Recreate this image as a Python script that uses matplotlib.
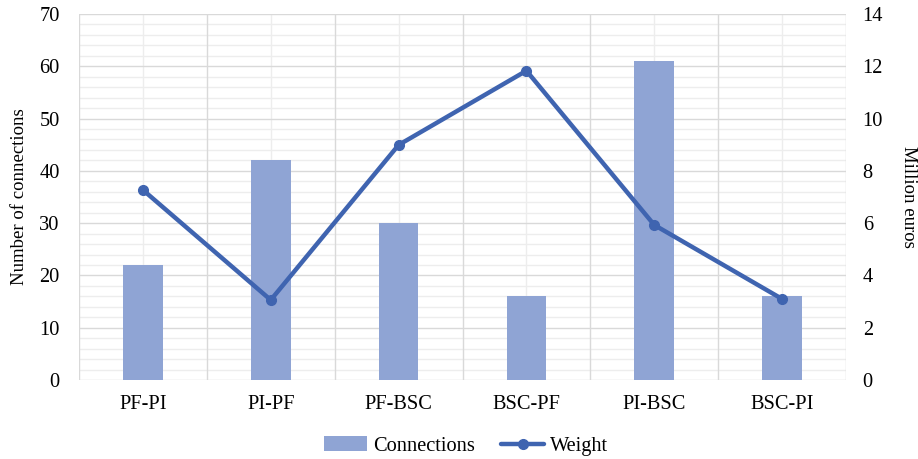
import matplotlib
matplotlib.use("Agg")
import matplotlib.pyplot as plt
import numpy as np
from matplotlib.ticker import MultipleLocator

categories = ["PF-PI", "PI-PF", "PF-BSC", "BSC-PF", "PI-BSC", "BSC-PI"]
connections = [22, 42, 30, 16, 61, 16]
weight = [7.27, 3.06, 8.99, 11.83, 5.93, 3.10]

plt.rcParams['font.family'] = ['Liberation Serif', 'DejaVu Serif']

fig = plt.figure(figsize=(9.18, 4.59), dpi=100)
ax = fig.add_axes([79/918, 79/459, (846-79)/918, (380-14)/459])
ax2 = ax.twinx()

x = np.arange(len(categories))
bar_color = "#8FA4D4"
line_color = "#3F64B0"

ax.bar(x, connections, width=0.31, color=bar_color, zorder=3, label="Connections")
ax2.plot(x, weight, color=line_color, lw=3.2, marker="o", ms=7, zorder=4, label="Weight",
         solid_capstyle="round")

ax.set_xlim(-0.5, len(categories) - 0.5)
ax.set_ylim(0, 70)
ax2.set_ylim(0, 14)
ax.yaxis.set_major_locator(MultipleLocator(10))
ax.yaxis.set_minor_locator(MultipleLocator(2))
ax2.yaxis.set_major_locator(MultipleLocator(2))

ax.set_xticks(x)
ax.set_xticklabels(categories)
ax.set_xticks(np.arange(-0.5, len(categories), 1.0), minor=True)

# gridlines
for v in np.arange(0, 71, 2):
    if v % 10 == 0:
        ax.axhline(v, color="#D9D9D9", lw=1.0, zorder=1)
    else:
        ax.axhline(v, color="#EDEDED", lw=1.0, zorder=0.5)
for xv in np.arange(-0.5, len(categories), 1.0):
    ax.axvline(xv, color="#D9D9D9", lw=1.0, zorder=1)
for xv in x:
    ax.axvline(xv, color="#EDEDED", lw=1.0, zorder=0.5)

for a in (ax, ax2):
    for s in a.spines.values():
        s.set_visible(False)
    a.tick_params(which="both", length=0)
ax.tick_params(axis="y", labelsize=14.7, pad=14)
ax.tick_params(axis="x", labelsize=14.7, pad=11)
ax2.tick_params(axis="y", labelsize=14.7, pad=12)

ax.set_ylabel("Number of connections", fontsize=13.5, labelpad=8)
ax2.set_ylabel("Million euros", fontsize=13.5, rotation=-90, labelpad=24)

h1, l1 = ax.get_legend_handles_labels()
h2, l2 = ax2.get_legend_handles_labels()
fig.legend(h1 + h2, l1 + l2, loc="center", bbox_to_anchor=(466/918, (459-446)/459),
           ncol=2, frameon=False, fontsize=14.7, handlelength=2.1, columnspacing=1.3,
           handletextpad=0.3)

fig.savefig("out.png", dpi=100)
